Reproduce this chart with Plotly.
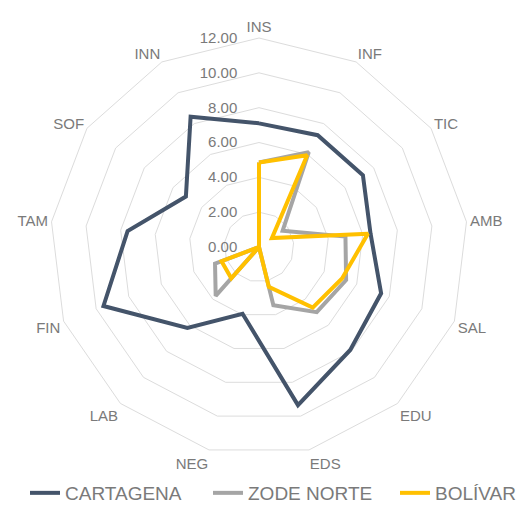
import plotly.graph_objects as go

categories = ["INS", "INF", "TIC", "AMB", "SAL", "EDU", "EDS", "NEG", "LAB", "FIN", "TAM", "SOF", "INN"]
cartagena = [7.1, 7.25, 7.25, 6.45, 7.5, 7.9, 9.35, 3.95, 6.2, 9.55, 7.6, 5.1, 8.45]
zode_norte = [4.85, 6.15, 1.65, 5.0, 5.35, 5.0, 3.45, 0.0, 3.75, 2.7, 0.0, 0.0, 0.0]
bolivar = [4.85, 5.95, 0.9, 6.3, 5.1, 4.65, 2.35, 0.0, 2.4, 2.3, 0.0, 0.0, 0.0]
radial_ticks = [0, 2, 4, 6, 8, 10, 12]

series = [
    ("CARTAGENA", cartagena, "#44546A", "legend", 25),
    ("ZODE NORTE", zode_norte, "#A5A5A5", "legend2", 208),
    ("BOLÍVAR", bolivar, "#FFC000", "legend3", 395),
]

W, H = 519, 506
text_color = "#7a7a7a"
grid_color = "#DCDCDC"

fig = go.Figure()
legends = {}
for name, vals, color, leg, lx in series:
    fig.add_trace(go.Scatterpolar(
        r=vals + [vals[0]],
        theta=categories + [categories[0]],
        mode="lines",
        name=name,
        legend=leg,
        line=dict(color=color, width=4),
        hoverinfo="skip",
    ))
    legends[leg] = dict(
        orientation="h",
        x=lx / W, xanchor="left",
        y=-6 / H, yanchor="bottom",
        font=dict(size=19, color=text_color),
        itemwidth=30,
        bgcolor="rgba(0,0,0,0)",
    )

fig.update_layout(
    width=W, height=H,
    margin=dict(l=0, r=0, t=0, b=0, autoexpand=False),
    paper_bgcolor="white",
    plot_bgcolor="white",
    font=dict(family="Liberation Sans, Arial, sans-serif", color=text_color),
    polar=dict(
        domain=dict(x=[50 / W, 468 / W], y=[1 - 456 / H, 1 - 38 / H]),
        bgcolor="white",
        gridshape="linear",
        radialaxis=dict(
            range=[0, 12],
            tickvals=radial_ticks,
            tickformat=".2f",
            angle=90,
            tickangle=90,
            side="counterclockwise",
            showline=False,
            ticks="outside",
            ticklen=16,
            tickcolor="rgba(0,0,0,0)",
            gridcolor=grid_color,
            gridwidth=1,
            tickfont=dict(size=15, color=text_color),
        ),
        angularaxis=dict(
            direction="clockwise",
            rotation=90,
            showgrid=False,
            showline=True,
            linecolor=grid_color,
            linewidth=1,
            ticks="",
            tickfont=dict(size=15, color=text_color),
        ),
    ),
    showlegend=True,
    **legends,
)

fig.write_html(
    "out.html",
    config={"displayModeBar": False},
    post_script="document.body.style.margin='0';document.body.style.overflow='hidden';",
)
